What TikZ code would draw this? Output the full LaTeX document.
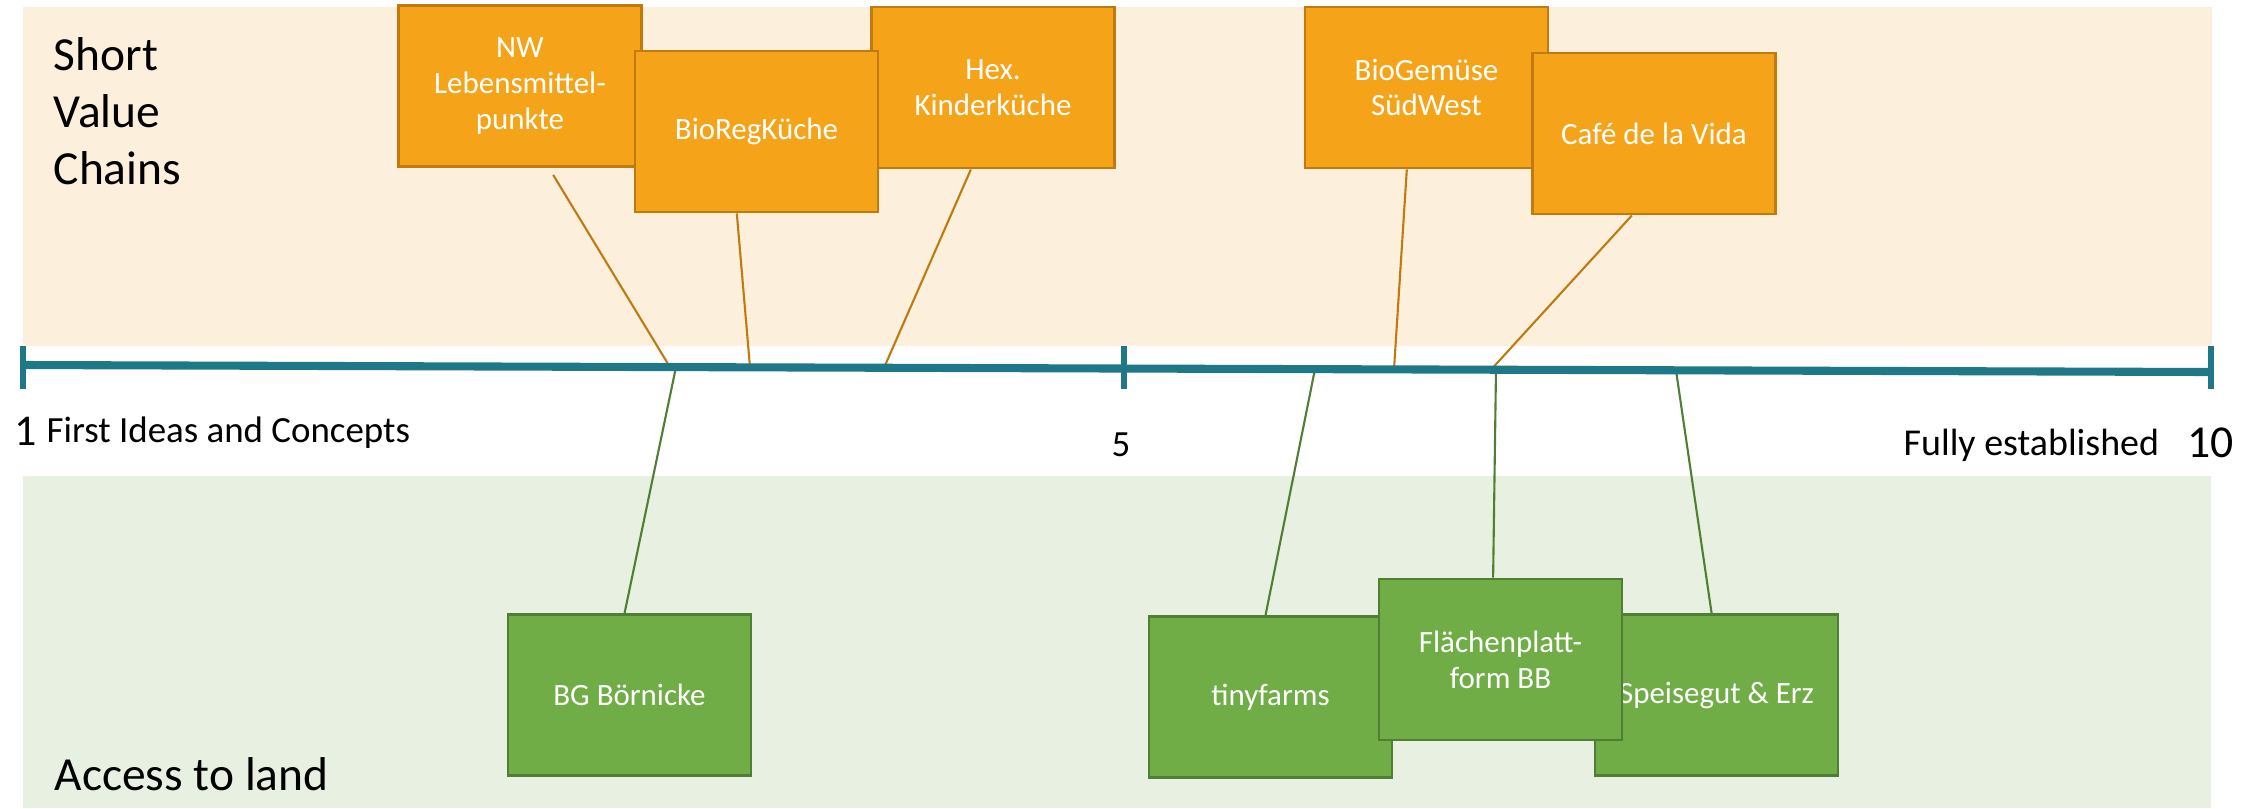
\documentclass[tikz,border=0pt]{standalone}
\usepackage{fontspec}
\setmainfont{Carlito}
\usetikzlibrary{calc, positioning}

\definecolor{chainbg}{HTML}{FCF0DC}
\definecolor{landbg}{HTML}{E8F1E1}
\definecolor{chainfill}{HTML}{F5A41A}
\definecolor{chainline}{HTML}{BF7A10}
\definecolor{landfill}{HTML}{70AD47}
\definecolor{landline}{HTML}{507E32}
\definecolor{axiscol}{HTML}{1E7888}

\begin{document}
\begin{tikzpicture}[x=0.01cm, y=-0.01cm,
    chainbox/.style={draw=chainline, fill=chainfill, line width=0.8pt, text=white,
      minimum width=2.43cm, minimum height=1.61cm, align=center, inner sep=2pt,
      font=\fontsize{8.8}{10.2}\selectfont},
    landbox/.style={chainbox, draw=landline, fill=landfill},
    chainlink/.style={draw=chainline, line width=0.6pt},
    landlink/.style={draw=landline, line width=0.6pt},
    bigtext/.style={inner sep=0pt, font=\fontsize{13.5}{16.2}\selectfont}]
    \useasboundingbox (0,0) rectangle (2265,808);

    % the two bands
    \fill[chainbg] (23,7) rectangle (2212,346);
    \fill[landbg] (23,476) rectangle (2211,808);

    \node[bigtext, anchor=north west, align=left] (chains) at (53,37) {Short\\Value\\Chains};
    \node[bigtext, anchor=base west] (land) at (54,790) {Access to land};

    % short value chains
    \node[chainbox] (nw) at (520,86) {NW\\Lebensmittel-\\punkte};
    \node[chainbox] (hex) at (993,87.5) {Hex.\\Kinderküche};
    \node[chainbox] (bioreg) at (756.5,131.5) {BioRegKüche};
    \node[chainbox] (biogem) at (1426.5,87.5) {BioGemüse\\SüdWest};
    \node[chainbox] (cafe) at (1654,133.5) {Café de la Vida};

    % access to land
    \node[landbox] (bg) at (629.5,695) {BG Börnicke};
    \node[landbox] (tiny) at (1270.5,697) {tinyfarms};
    \node[landbox] (speise) at (1716.5,695) {Speisegut \& Erz};
    \node[landbox] (flaech) at (1500.5,659.5) {Flächenplatt-\\form BB};

    % points on the scale
    \path (23,365) coordinate (s1)
          (1124,369) coordinate (s5)
          (2211,372) coordinate (s10);
    \path (670,367.1) coordinate (p-nw)
          (750,367.3) coordinate (p-bioreg)
          (884,367.8) coordinate (p-hex)
          (1394,369.4) coordinate (p-biogem)
          (1491,369.7) coordinate (p-cafe)
          (676,367.1) coordinate (p-bg)
          (1315,369.1) coordinate (p-tiny)
          (1496,369.7) coordinate (p-flaech)
          (1676,370.3) coordinate (p-speise);

    \draw[chainlink] ($(nw.south west)!0.635!(nw.south east)$) ++(0,7) -- (p-nw);
    \draw[chainlink] ($(bioreg.south west)!0.42!(bioreg.south east)$) -- (p-bioreg);
    \draw[chainlink] ($(hex.south west)!0.41!(hex.south east)$) -- (p-hex);
    \draw[chainlink] ($(biogem.south west)!0.42!(biogem.south east)$) -- (p-biogem);
    \draw[chainlink] ($(cafe.south west)!0.41!(cafe.south east)$) -- (p-cafe);

    \draw[landlink] (p-bg) -- ($(bg.north west)!0.48!(bg.north east)$);
    \draw[landlink] (p-tiny) -- ($(tiny.north west)!0.48!(tiny.north east)$);
    \draw[landlink] (p-flaech) -- ($(flaech.north west)!0.47!(flaech.north east)$);
    \draw[landlink] (p-speise) -- ($(speise.north west)!0.48!(speise.north east)$);

    % the scale
    \draw[axiscol, line width=2.3pt] (s1) -- (s10);
    \foreach \t in {s1, s5, s10}
      \draw[axiscol, line width=1.7pt] (\t |- 0,346) -- (\t |- 0,389);

    \node[anchor=base west, inner sep=0pt, font=\fontsize{12.5}{15}\selectfont] (one) at (14,445) {1};
    \node[anchor=base west, inner sep=0pt, font=\fontsize{10.5}{12}\selectfont] (first) at (46,442) {First Ideas and Concepts};
    \node[anchor=base west, inner sep=0pt, font=\fontsize{10.5}{12}\selectfont] (five) at (1111,456) {5};
    \node[anchor=base west, inner sep=0pt, font=\fontsize{10.8}{13}\selectfont] (fully) at (1903,455) {Fully established};
    \node[anchor=base west, inner sep=0pt, font=\fontsize{13}{15}\selectfont] (ten) at (2187,457) {10};
\end{tikzpicture}
\end{document}
